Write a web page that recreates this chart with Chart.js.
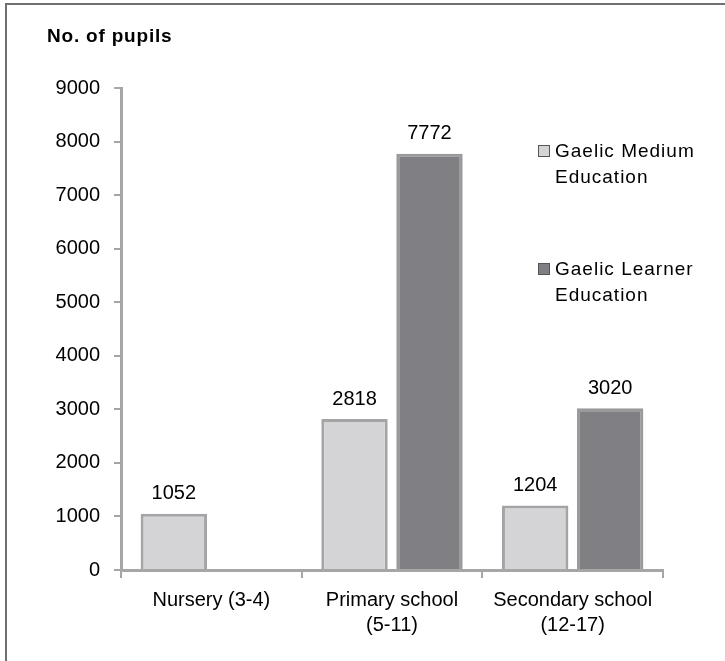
<!DOCTYPE html>
<html>
<head>
<meta charset="utf-8">
<script src="https://cdn.jsdelivr.net/npm/chart.js@4.4.1/dist/chart.umd.min.js"></script>
<style>
  html, body { margin: 0; padding: 0; background: #fff; }
  #wrap { width: 725px; height: 661px; position: relative; }
</style>
</head>
<body>
<div id="wrap"><canvas id="pupilsChart" width="725" height="661"></canvas></div>
<script>
// pupils in Gaelic education by stage
const stages = [['Nursery (3-4)'], ['Primary school', '(5-11)'], ['Secondary school', '(12-17)']];
const seriesNames = [['Gaelic Medium', 'Education'], ['Gaelic Learner', 'Education']];
const mediumPupils = [1052, 2818, 1204];
const learnerPupils = [null, 7772, 3020];
const yTicks = [0, 1000, 2000, 3000, 4000, 5000, 6000, 7000, 8000, 9000];

const fills = ['#d4d4d6', '#808084'];
const edges = ['#a4a4a6', '#9a9a9c'];
const axisGrey = '#a6a6a6';
const font = 'Liberation Sans, Arial, sans-serif';

// frame, y title, value labels and the side legend
const extras = {
  id: 'extras',
  beforeDraw(chart) {
    const ctx = chart.ctx;
    ctx.save();
    ctx.strokeStyle = '#707070';
    ctx.lineWidth = 2;
    ctx.beginPath();
    ctx.moveTo(6, 661);
    ctx.lineTo(6, 4);
    ctx.lineTo(725, 4);
    ctx.stroke();
    ctx.restore();
  },
  afterDatasetsDraw(chart) {
    const ctx = chart.ctx;
    ctx.save();
    ctx.fillStyle = '#000';
    ctx.font = 'bold 19px ' + font;
    ctx.textAlign = 'left';
    ctx.textBaseline = 'middle';
    ctx.letterSpacing = '0.8px';
    ctx.fillText('No. of pupils', 47, 37);
    ctx.letterSpacing = '0px';

    ctx.font = '20px ' + font;
    ctx.textAlign = 'center';
    ctx.textBaseline = 'bottom';
    chart.data.datasets.forEach((ds, i) => {
      chart.getDatasetMeta(i).data.forEach((bar, j) => {
        if (ds.data[j] == null) return;
        ctx.fillText(String(ds.data[j]), bar.x, bar.y - 10);
      });
    });

    // legend
    ctx.font = '19px ' + font;
    ctx.textAlign = 'left';
    ctx.textBaseline = 'middle';
    ctx.letterSpacing = '1px';
    const legendY = [152, 270];
    seriesNames.forEach((lines, i) => {
      const y = legendY[i];
      ctx.fillStyle = fills[i];
      ctx.fillRect(538, y - 7, 12, 12);
      ctx.strokeStyle = '#555';
      ctx.lineWidth = 1;
      ctx.strokeRect(538.5, y - 6.5, 11, 11);
      ctx.fillStyle = '#000';
      lines.forEach((t, k) => ctx.fillText(t, 555, y + k * 26));
    });
    ctx.restore();
  }
};

new Chart(document.getElementById('pupilsChart'), {
  type: 'bar',
  data: {
    labels: stages,
    datasets: [
      {
        label: seriesNames[0].join(' '),
        data: mediumPupils,
        backgroundColor: fills[0],
        borderColor: edges[0],
        borderWidth: 3
      },
      {
        label: seriesNames[1].join(' '),
        data: learnerPupils,
        backgroundColor: fills[1],
        borderColor: edges[1],
        borderWidth: 3
      }
    ]
  },
  options: {
    responsive: false,
    animation: false,
    layout: { padding: { left: 0, right: 62, top: 88, bottom: 0 } },
    datasets: { bar: { categoryPercentage: 0.83, barPercentage: 0.886 } },
    plugins: {
      legend: { display: false },
      tooltip: { enabled: false }
    },
    scales: {
      x: {
        grid: { display: true, offset: true, drawOnChartArea: false, color: axisGrey, lineWidth: 2, tickLength: 8 },
        border: { color: axisGrey, width: 3 },
        ticks: { color: '#000', font: { family: font, size: 20, lineHeight: 1.25 }, padding: 10, maxRotation: 0 },
        afterFit(scale) { scale.height = 91; }
      },
      y: {
        min: 0,
        max: 9000,
        afterBuildTicks(scale) { scale.ticks = yTicks.map(v => ({ value: v })); },
        grid: { display: true, drawOnChartArea: false, color: axisGrey, lineWidth: 2, tickLength: 7 },
        border: { color: axisGrey, width: 3 },
        ticks: { color: '#000', font: { family: font, size: 20 }, padding: 14, callback: v => String(v) },
        afterFit(scale) { scale.width = 121; }
      }
    }
  },
  plugins: [extras]
});
</script>
</body>
</html>
